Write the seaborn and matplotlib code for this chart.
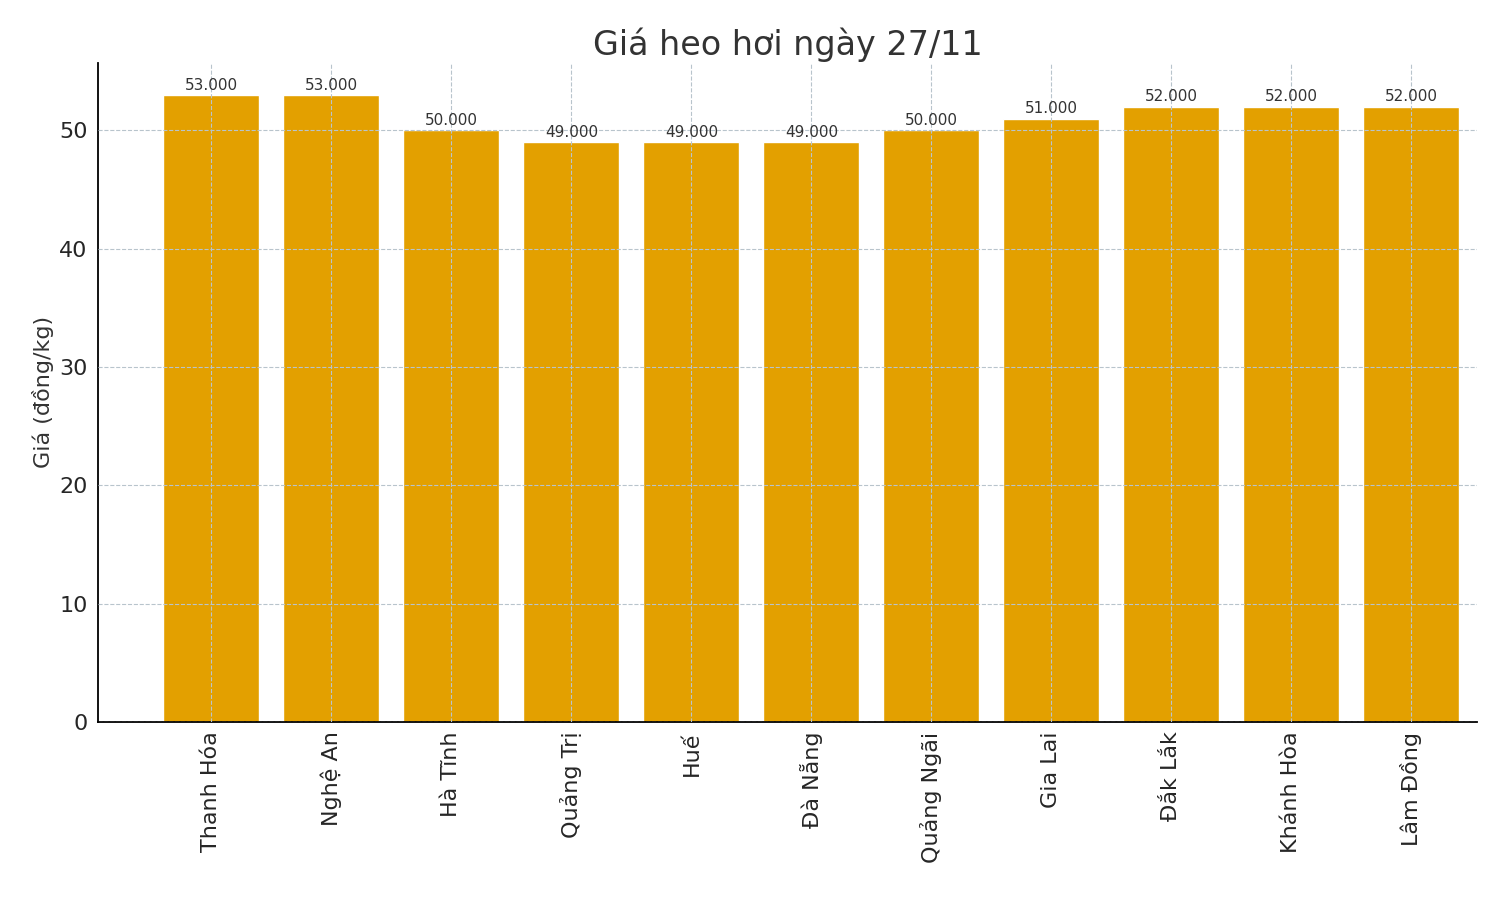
import matplotlib
matplotlib.use("Agg")
import matplotlib.pyplot as plt
import seaborn as sns
import pandas as pd

provinces = ["Thanh Hóa", "Nghệ An", "Hà Tĩnh", "Quảng Trị", "Huế", "Đà Nẵng",
             "Quảng Ngãi", "Gia Lai", "Đắk Lắk", "Khánh Hòa", "Lâm Đồng"]
prices = [53, 53, 50, 49, 49, 49, 50, 51, 52, 52, 52]
labels = ["53.000", "53.000", "50.000", "49.000", "49.000", "49.000",
          "50.000", "51.000", "52.000", "52.000", "52.000"]

sns.set_style("white")
plt.rcParams['font.family'] = ['DejaVu Sans']
df = pd.DataFrame({"p": provinces, "v": prices})
fig, ax = plt.subplots(figsize=(15, 9), dpi=100)
fig.subplots_adjust(left=0.065, right=0.985, top=0.93, bottom=0.198)
sns.barplot(data=df, x="p", y="v", color="#E3A000", saturation=1, width=0.8, ax=ax)
for i, (v, t) in enumerate(zip(prices, labels)):
    ax.text(i, v + 0.2, t, ha="center", va="bottom", fontsize=11, color="#333333")
ax.set_ylim(0, 55.7)
ax.set_xlim(-0.95, 10.55)
ax.set_axisbelow(False)
ax.grid(True, linestyle="--", color="#b8c4cc", linewidth=0.8)
ax.set_title("Giá heo hơi ngày 27/11", fontsize=24, color="#333333")
ax.set_xlabel("")
ax.set_ylabel("Giá (đồng/kg)", fontsize=16, color="#333333")
ax.tick_params(axis="x", rotation=90, labelsize=16)
ax.tick_params(axis="y", labelsize=16)
for s in ["top", "right"]:
    ax.spines[s].set_visible(False)
for s in ["left", "bottom"]:
    ax.spines[s].set_color("black")
    ax.spines[s].set_linewidth(1.3)
fig.savefig("out.png")
